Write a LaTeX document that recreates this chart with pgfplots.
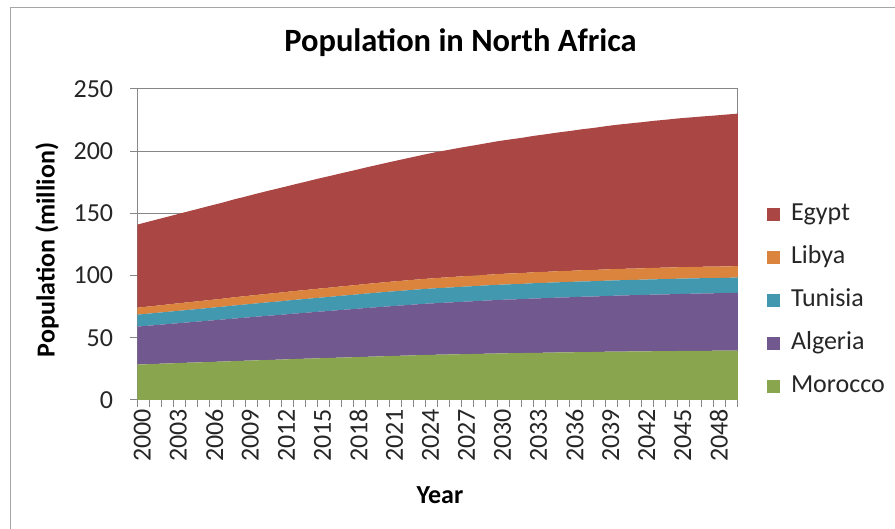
\documentclass[border=0pt]{standalone}
\usepackage{fontspec}
\setmainfont{Carlito}
\usepackage{pgfplots}
\usepackage{pgfplotstable}
\pgfplotsset{compat=1.18}

\definecolor{egypt}{HTML}{AA4643}
\definecolor{libya}{HTML}{DB843D}
\definecolor{tunisia}{HTML}{4198AF}
\definecolor{algeria}{HTML}{71588F}
\definecolor{morocco}{HTML}{89A54E}
\definecolor{axisgray}{HTML}{868686}
\definecolor{framegray}{HTML}{A6A6A6}
\definecolor{txt}{HTML}{262626}

% Population by country, million
\pgfplotstableread{
year mor alg tun lib egy
2000 28.5 30.5 9.6 5.6 66.8
2001 28.8 31.0 9.7 5.7 68.3
2002 29.2 31.4 9.8 5.8 69.8
2003 29.5 31.9 9.9 6.0 71.2
2004 29.9 32.3 10.0 6.1 72.7
2005 30.2 32.8 10.1 6.2 74.2
2006 30.5 33.3 10.2 6.3 75.7
2007 30.9 33.7 10.3 6.4 77.1
2008 31.2 34.2 10.5 6.6 78.6
2009 31.6 34.6 10.6 6.7 80.0
2010 31.9 35.1 10.7 6.8 81.5
2011 32.2 35.6 10.8 6.9 82.9
2012 32.5 36.0 10.9 7.0 84.3
2013 32.9 36.5 11.0 7.1 85.6
2014 33.2 36.9 11.1 7.2 87.0
2015 33.5 37.4 11.2 7.3 88.4
2016 33.8 37.8 11.3 7.4 89.7
2017 34.1 38.3 11.4 7.5 91.0
2018 34.4 38.7 11.5 7.6 92.3
2019 34.7 39.2 11.6 7.7 93.6
2020 35.0 39.6 11.7 7.8 94.9
2021 35.3 40.0 11.8 7.9 96.2
2022 35.6 40.4 11.8 8.0 97.5
2023 35.9 40.8 11.9 8.0 98.8
2024 36.2 41.2 11.9 8.1 100.1
2025 36.4 41.5 12.0 8.2 101.4
2026 36.6 41.8 12.0 8.3 102.5
2027 36.8 42.1 12.1 8.4 103.6
2028 37.0 42.4 12.1 8.4 104.7
2029 37.2 42.7 12.2 8.5 105.7
2030 37.4 43.0 12.2 8.6 106.8
2031 37.6 43.2 12.2 8.7 107.7
2032 37.7 43.4 12.2 8.7 108.7
2033 37.9 43.7 12.3 8.8 109.6
2034 38.0 43.9 12.3 8.8 110.6
2035 38.2 44.1 12.3 8.9 111.5
2036 38.3 44.3 12.3 8.9 112.4
2037 38.5 44.5 12.3 9.0 113.3
2038 38.6 44.6 12.3 9.0 114.2
2039 38.8 44.8 12.3 9.1 115.1
2040 38.9 45.0 12.3 9.1 116.0
2041 39.0 45.2 12.3 9.1 116.7
2042 39.1 45.3 12.3 9.1 117.5
2043 39.2 45.5 12.3 9.2 118.2
2044 39.3 45.6 12.3 9.2 118.9
2045 39.4 45.8 12.3 9.2 119.6
2046 39.5 45.9 12.3 9.2 120.2
2047 39.5 46.1 12.3 9.2 120.8
2048 39.6 46.2 12.2 9.2 121.4
2049 39.6 46.4 12.2 9.2 122.0
2050 39.7 46.5 12.2 9.2 122.6
}\popdata

\newcommand\txtfont{\fontsize{26}{31}\selectfont}

\begin{document}
\begin{tikzpicture}[x=1pt,y=1pt]
\path[use as bounding box] (0,0) rectangle (895,529);
\draw[framegray, line width=1pt] (10,0) -- (10,521) -- (895,521);

\node[anchor=base, font=\fontsize{32.5}{39}\selectfont\bfseries, text=black] at (460.5,477) {Population in North Africa};

\begin{axis}[
  at={(137.3pt,129pt)}, anchor=south west,
  scale only axis, width=600.5pt, height=311pt,
  xmin=2000, xmax=2050, ymin=0, ymax=250,
  stack plots=y,
  xtick={2000,2003,...,2048},
  minor xtick={2000,...,2050},
  ytick={0,50,...,250},
  tick pos=left, tick align=outside,
  major tick length=7pt, minor tick length=7pt,
  every tick/.style={axisgray, line width=1pt},
  every minor tick/.style={axisgray, line width=1pt},
  axis line style={axisgray, line width=1pt},
  ymajorgrids, major grid style={axisgray, line width=1pt},
  /pgf/number format/assume math mode=true,
  /pgf/number format/1000 sep={},
  tick label style={font=\txtfont, text=txt},
  xticklabel style={rotate=90, anchor=east, inner sep=2pt, yshift=-5pt},
  yticklabel style={inner sep=2pt, xshift=-15pt},
  reverse legend,
  legend cell align=left,
  legend style={at={(1,0.3215)}, anchor=west, xshift=29pt, draw=none, fill=none,
    inner sep=0pt, font=\txtfont, text=txt, row sep=16pt,
    nodes={inner sep=2pt, text height=18pt, text depth=5pt}},
  legend image code/.code={\fill[#1] (0pt,-6.5pt) rectangle (13pt,6.5pt); \path (22pt,0pt);},
]
\addplot[fill=morocco, draw=none] table[x=year, y=mor] {\popdata} \closedcycle;
\addplot[fill=algeria, draw=none] table[x=year, y=alg] {\popdata} \closedcycle;
\addplot[fill=tunisia, draw=none] table[x=year, y=tun] {\popdata} \closedcycle;
\addplot[fill=libya, draw=none] table[x=year, y=lib] {\popdata} \closedcycle;
\addplot[fill=egypt, draw=none] table[x=year, y=egy] {\popdata} \closedcycle;
\legend{Morocco, Algeria, Tunisia, Libya, Egypt}
\end{axis}

\node[rotate=90, font=\txtfont\bfseries, text=black] at (47,279) {Population (million)};
\node[anchor=base, font=\txtfont\bfseries, text=black] at (440,25) {Year};
\end{tikzpicture}
\end{document}
